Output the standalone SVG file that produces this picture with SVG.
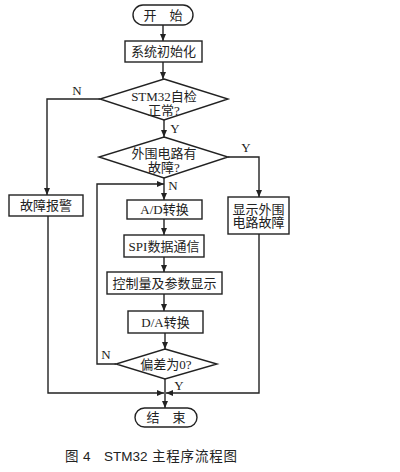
<svg xmlns="http://www.w3.org/2000/svg" width="400" height="472" viewBox="0 0 400 472">
<defs>
<marker id="ah" markerWidth="7" markerHeight="6" refX="7" refY="3" orient="auto" markerUnits="userSpaceOnUse">
<path d="M0,0 L7,3 L0,6 Z" fill="#222"/>
</marker>
<style>
.box{fill:#fff;stroke:#222;stroke-width:1.4}
.t{font-family:"Liberation Serif","Noto Sans CJK SC",serif;font-size:13px;fill:#222;text-anchor:middle}
.lb{font-family:"Liberation Serif",serif;font-size:13px;fill:#222;text-anchor:middle}
.c{fill:none;stroke:#222;stroke-width:1.4}
.cap{font-family:"Liberation Sans","Noto Sans CJK SC",sans-serif;font-size:13.5px;fill:#222}
</style>
</defs>
<rect width="400" height="472" fill="#fff"/>
<g id="connectors">
<path class="c" d="M163,25 V41" marker-end="url(#ah)"/>
<path class="c" d="M163,62 V79" marker-end="url(#ah)"/>
<path class="c" d="M100,99 H47 V195" marker-end="url(#ah)"/>
<path class="c" d="M164,120 V137" marker-end="url(#ah)"/>
<path class="c" d="M228,157 H259 V197" marker-end="url(#ah)"/>
<path class="c" d="M164,178 V200" marker-end="url(#ah)"/>
<path class="c" d="M116,364 H97 V184 H164" marker-end="url(#ah)"/>
<path class="c" d="M164,219 V235" marker-end="url(#ah)"/>
<path class="c" d="M164,257 V272" marker-end="url(#ah)"/>
<path class="c" d="M164,294 V311" marker-end="url(#ah)"/>
<path class="c" d="M165,333 V349" marker-end="url(#ah)"/>
<path class="c" d="M48,216 V393 H164" marker-end="url(#ah)"/>
<path class="c" d="M259,234 V393 H166" marker-end="url(#ah)"/>
<path class="c" d="M165,379 V408" marker-end="url(#ah)"/>
<text class="lb" x="77" y="95">N</text>
<text class="lb" x="175" y="133">Y</text>
<text class="lb" x="246" y="152">Y</text>
<text class="lb" x="173" y="190">N</text>
<text class="lb" x="106" y="359">N</text>
<text class="lb" x="179" y="390">Y</text>
</g>
<g id="start">
<rect class="box" x="133" y="5" width="60" height="20" rx="10"/>
<text class="t" x="163" y="19.5">开　始</text>
</g>
<g id="init">
<rect class="box" x="125" y="41" width="77" height="21"/>
<text class="t" x="163.5" y="56">系统初始化</text>
</g>
<g id="selfcheck">
<polygon class="box" points="164,79 228,99 164,120 100,99"/>
<text class="t" x="164" y="101">STM32自检</text>
<text class="t" x="164" y="115">正常?</text>
</g>
<g id="periph">
<polygon class="box" points="164,137 228,157 164,178 99,157"/>
<text class="t" x="164" y="158">外围电路有</text>
<text class="t" x="164" y="171.5">故障?</text>
</g>
<g id="alarm">
<rect class="box" x="9" y="195" width="74" height="21"/>
<text class="t" x="46" y="210">故障报警</text>
</g>
<g id="showfault">
<rect class="box" x="228" y="197" width="61" height="37"/>
<text class="t" x="258.5" y="213.5">显示外围</text>
<text class="t" x="258.5" y="227">电路故障</text>
</g>
<g id="ad">
<rect class="box" x="127" y="200" width="75" height="19"/>
<text class="t" x="164.5" y="214">A/D转换</text>
</g>
<g id="spi">
<rect class="box" x="124" y="235" width="80" height="22"/>
<text class="t" x="164" y="250.5">SPI数据通信</text>
</g>
<g id="display">
<rect class="box" x="107" y="272" width="115" height="22"/>
<text class="t" x="164.5" y="287.5">控制量及参数显示</text>
</g>
<g id="da">
<rect class="box" x="128" y="311" width="75" height="22"/>
<text class="t" x="165.5" y="326.5">D/A转换</text>
</g>
<g id="deviation">
<polygon class="box" points="165,349 217,364 165,379 116,364"/>
<text class="t" x="166" y="368.5">偏差为0?</text>
</g>
<g id="end">
<rect class="box" x="135" y="408" width="62" height="19" rx="9.5"/>
<text class="t" x="166" y="422">结　束</text>
</g>
<g id="caption">
<text class="cap" y="461"><tspan x="65">图</tspan><tspan x="83">4</tspan><tspan x="104">STM32</tspan><tspan x="152" textLength="85">主程序流程图</tspan></text>
</g>
</svg>
